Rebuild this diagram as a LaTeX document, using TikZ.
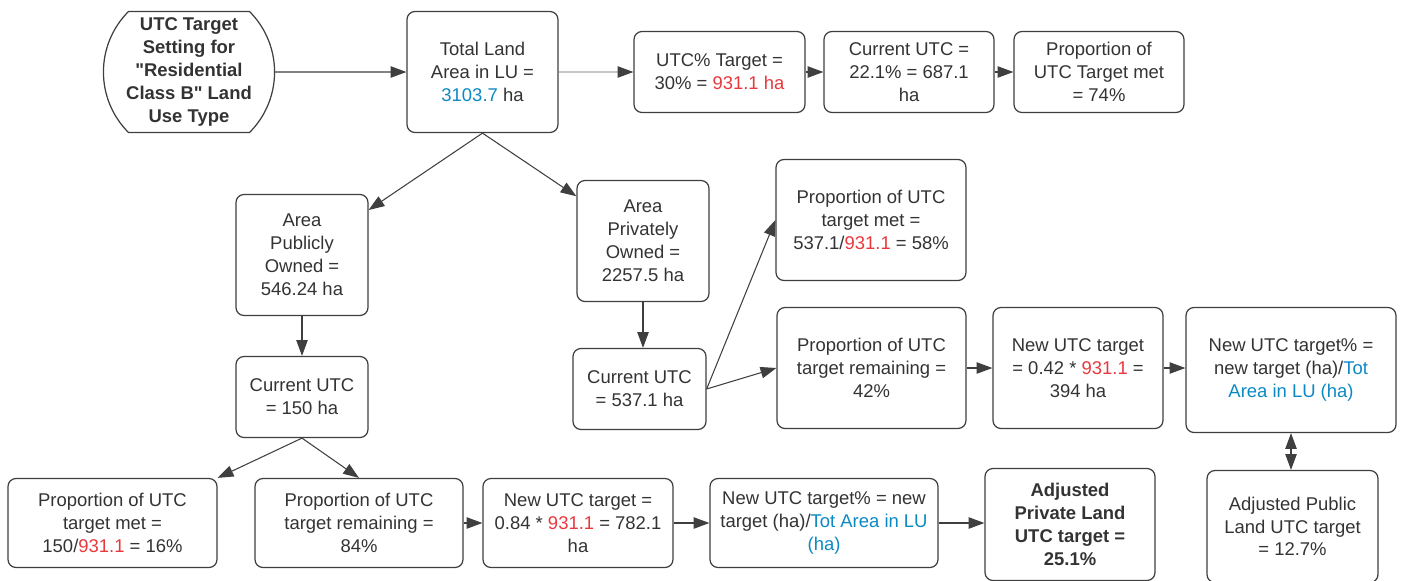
\documentclass[tikz,border=0pt]{standalone}
\usepackage{fontspec}
\setmainfont{Liberation Sans}[Ligatures=TeXOff]
\usepackage{tikz}
\usetikzlibrary{calc,arrows.meta,shapes.misc}
\definecolor{textgray}{HTML}{333333}
\definecolor{linegray}{HTML}{3F3F3F}
\definecolor{areablue}{HTML}{0C89C3}
\definecolor{targetred}{HTML}{E8383D}
\newcommand{\areaval}[1]{\textcolor{areablue}{#1}}
\newcommand{\targetval}[1]{\textcolor{targetred}{#1}}

\begin{document}
\begin{tikzpicture}[font=\fontsize{10.5}{13}\selectfont, text=textgray]
        \tikzstyle{block} = [rectangle, rounded corners=0.16cm, draw=linegray, line width=0.7pt, align=center, inner sep=2pt, minimum height=2.42cm]
        \tikzstyle{small_block} = [block, minimum height=1.62cm]
        \tikzstyle{low_block} = [block, minimum height=1.78cm]
        \tikzstyle{terminal} = [rounded rectangle, rounded rectangle arc length=90, draw=linegray, line width=0.7pt, align=center, inner sep=2pt, minimum width=3.44cm, minimum height=2.42cm, font=\fontsize{10.5}{13}\selectfont\bfseries]
        \tikzstyle{fleche} = [-{Triangle[length=9pt,width=6.5pt]}, draw=linegray, line width=0.6pt]
        \useasboundingbox (0,0) rectangle (28.04,-11.6);
        \node (start) [terminal] at (3.78,-1.44) {UTC Target\\Setting for\\"Residential\\Class B" Land\\Use Type};
        \node (total) [block, minimum width=3.02cm, right of=start, xshift=4.87cm]{Total Land\\Area in LU =\\\areaval{3103.7} ha};
        \node (utc_pct) [small_block, minimum width=3.42cm, right of=total, xshift=3.74cm]{UTC\% Target =\\30\% = \targetval{931.1 ha}};
        \node (cur_top) [small_block, minimum width=3.40cm, right of=utc_pct, xshift=2.79cm]{Current UTC =\\22.1\% = 687.1\\ha};
        \node (met_top) [small_block, minimum width=3.40cm, right of=cur_top, xshift=2.80cm]{Proportion of\\UTC Target met\\= 74\%};
        \node (public) [block, minimum width=2.64cm, below of=total, xshift=-3.61cm, yshift=-2.66cm]{Area\\Publicly\\Owned =\\546.24 ha};
        \node (private) [block, minimum width=2.64cm, below of=total, xshift=3.21cm, yshift=-2.38cm]{Area\\Privately\\Owned =\\2257.5 ha};
        \node (met_priv) [block, minimum width=3.80cm, right of=private, xshift=3.56cm, yshift=0.42cm]{Proportion of UTC\\target met =\\537.1/\targetval{931.1} = 58\%};
        \node (cur_pub) [small_block, minimum width=2.64cm, below of=public, yshift=-1.84cm]{Current UTC\\= 150 ha};
        \node (cur_priv) [small_block, minimum width=2.66cm, below of=private, xshift=-0.07cm, yshift=-1.96cm]{Current UTC\\= 537.1 ha};
        \node (rem_priv) [block, minimum width=3.78cm, right of=cur_priv, xshift=3.64cm, yshift=0.42cm]{Proportion of UTC\\target remaining =\\42\%};
        \node (new_priv) [block, minimum width=3.40cm, right of=rem_priv, xshift=3.13cm]{New UTC target\\= 0.42 * \targetval{931.1} =\\394 ha};
        \node (pct_priv) [block, minimum width=4.20cm, minimum height=2.50cm, right of=new_priv, xshift=3.26cm, yshift=-0.04cm]{New UTC target\% =\\new target (ha)/\areaval{Tot}\\\areaval{Area in LU (ha)}};
        \node (adj_pub) [block, minimum width=3.42cm, minimum height=2.24cm, below of=pct_priv, xshift=0.03cm, yshift=-2.13cm]{Adjusted Public\\Land UTC target\\= 12.7\%};
        \node (met_pub) [low_block, minimum width=4.18cm, below of=cur_pub, xshift=-3.79cm, yshift=-1.52cm]{Proportion of UTC\\target met =\\150/\targetval{931.1} = 16\%};
        \node (rem_pub) [low_block, minimum width=4.16cm, right of=met_pub, xshift=3.93cm]{Proportion of UTC\\target remaining =\\84\%};
        \node (new_pub) [low_block, minimum width=3.80cm, right of=rem_pub, xshift=3.38cm]{New UTC target =\\0.84 * \targetval{931.1} = 782.1\\ha};
        \node (pct_pub) [low_block, minimum width=4.56cm, right of=new_pub, xshift=3.92cm]{New UTC target\% = new\\target (ha)/\areaval{Tot Area in LU}\\\areaval{(ha)}};
        \node (adj_priv) [block, minimum width=3.40cm, minimum height=2.24cm, right of=pct_pub, xshift=3.92cm, yshift=-0.03cm, font=\fontsize{10.5}{13}\selectfont\bfseries]{Adjusted\\Private Land\\UTC target =\\25.1\%};
        \draw [fleche] (start) -- (total);
        \draw [fleche, draw=gray!45, -{Triangle[length=9pt,width=6.5pt,color=linegray]}] (total) -- (utc_pct);
        \draw [fleche] (utc_pct) -- (cur_top);
        \draw [fleche] (cur_top) -- (met_top);
        \draw [fleche] (total.south) -- (public);
        \draw [fleche] (total.south) -- (private);
        \draw [fleche] (public) -- (cur_pub);
        \draw [fleche] (private.south) -- (private.south |- cur_priv.north);
        \draw [fleche] (cur_priv.east) -- (met_priv.west);
        \draw [fleche] (cur_priv.east) -- (rem_priv.west);
        \draw [fleche] (rem_priv) -- (new_priv);
        \draw [fleche] (new_priv.east) -- (new_priv.east -| pct_priv.west);
        \draw [fleche, {Triangle[length=9pt,width=6.5pt]}-{Triangle[length=9pt,width=6.5pt]}] (pct_priv.south) -- (pct_priv.south |- adj_pub.north);
        \draw [fleche] (cur_pub.south) -- (met_pub.north east);
        \draw [fleche] (cur_pub.south) -- (rem_pub.north);
        \draw [fleche] (rem_pub) -- (new_pub);
        \draw [fleche] (new_pub) -- (pct_pub);
        \draw [fleche] (pct_pub.east) -- (pct_pub.east -| adj_priv.west);
    \end{tikzpicture}
\end{document}
